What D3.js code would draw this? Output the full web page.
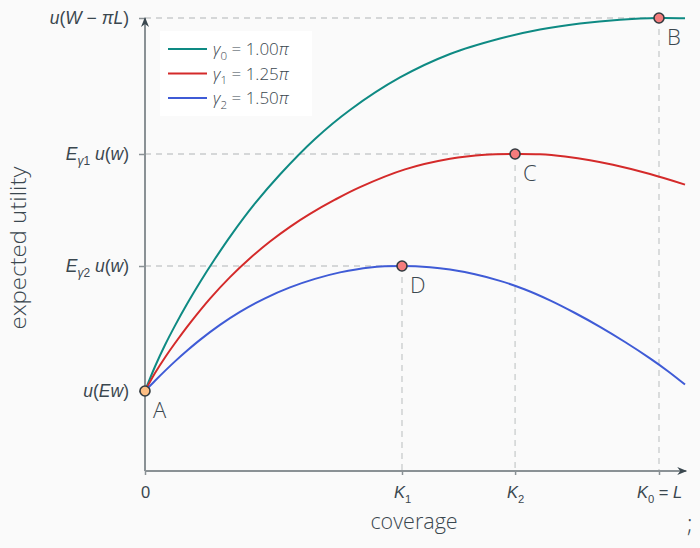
<!DOCTYPE html>
<html><head><meta charset="utf-8">
<script src="https://cdn.jsdelivr.net/npm/d3@7"></script>
<style>
body{margin:0;background:#fafafa;}
svg{display:block;font-family:"Open Sans",sans-serif;font-weight:300;}
</style>
</head><body>
<svg id="c" width="700" height="548"></svg>
<script>
// ---- data (coverage, expected utility) ----
const seriesNames = ["γ0 = 1.00π", "γ1 = 1.25π", "γ2 = 1.50π"];
const gamma0 = [[0,0],[0.0195,0.0657],[0.0389,0.1233],[0.0584,0.1753],[0.0817,0.2332],[0.107,0.2917],[0.1362,0.3544],[0.1673,0.4172],[0.214,0.5027],[0.2626,0.5804],[0.3307,0.6756],[0.3988,0.7534],[0.4961,0.8405],[0.5934,0.9035],[0.6907,0.945],[0.7685,0.9692],[0.8463,0.9853],[0.9241,0.9954],[1,1],[1.0506,0.9992]];
const gamma1 = [[0,0],[0.0195,0.048],[0.0389,0.0898],[0.0632,0.1373],[0.0875,0.182],[0.1265,0.2477],[0.1654,0.3054],[0.2043,0.356],[0.2432,0.4008],[0.2821,0.4402],[0.321,0.4748],[0.3696,0.5129],[0.4183,0.5466],[0.5058,0.5941],[0.5934,0.6225],[0.6615,0.6335],[0.72,0.6354],[0.7685,0.6344],[0.8171,0.6284],[0.8658,0.6188],[0.9105,0.6064],[0.9825,0.5818],[1.0506,0.5534]];
const gamma2 = [[0,0],[0.0195,0.0276],[0.0389,0.054],[0.0584,0.0794],[0.0827,0.1091],[0.107,0.137],[0.1459,0.1772],[0.1848,0.2121],[0.2335,0.2485],[0.2821,0.2777],[0.3307,0.3005],[0.3794,0.318],[0.4377,0.3314],[0.5,0.3351],[0.5545,0.3319],[0.5934,0.3255],[0.642,0.3129],[0.6907,0.2953],[0.7393,0.2721],[0.7879,0.243],[0.8366,0.2091],[0.8852,0.172],[0.9339,0.1314],[0.9825,0.0875],[1.0175,0.053],[1.0506,0.0172]];
const pointNames = ["A","B","C","D"];
const pointValues = [[0,0],[1,1],[0.72,0.6354],[0.5,0.3351]];
const xTickValues = [0, 0.5, 0.72, 1];
const yTickValues = [0, 0.3351, 0.6354, 1];
const colors = ["#0e8a83","#d42a2a","#3f5bd6"];

// ---- math label segments ----
const xTickLabels = [
  [{t:"0"}],
  [{t:"K",i:1},{t:"1",s:1}],
  [{t:"K",i:1},{t:"2",s:1}],
  [{t:"K",i:1},{t:"0",s:1},{t:" = "},{t:"L",i:1}]
];
const yTickLabels = [
  [{t:"u",i:1},{t:"("},{t:"Ew",i:1},{t:")"}],
  [{t:"E",i:1},{t:"γ",i:1,s:1},{t:"2",s:1},{t:" u",i:1},{t:"("},{t:"w",i:1},{t:")"}],
  [{t:"E",i:1},{t:"γ",i:1,s:1},{t:"1",s:1},{t:" u",i:1},{t:"("},{t:"w",i:1},{t:")"}],
  [{t:"u",i:1},{t:"("},{t:"W",i:1},{t:" − "},{t:"π",i:1},{t:"L",i:1},{t:")"}]
];
const legendLabels = [
  [{t:"γ",i:1},{t:"0",s:1},{t:" = 1.00"},{t:"π",i:1}],
  [{t:"γ",i:1},{t:"1",s:1},{t:" = 1.25"},{t:"π",i:1}],
  [{t:"γ",i:1},{t:"2",s:1},{t:" = 1.50"},{t:"π",i:1}]
];

const textColor = "#3a474f", axisColor = "#8a9195", gridColor = "#c9cccd";
const svg = d3.select("#c");
svg.append("rect").attr("width",700).attr("height",548).attr("fill","#fafafa");

const x = d3.scaleLinear().domain([0,1]).range([145,659]);
const y = d3.scaleLinear().domain([0,1]).range([391,18]);
const xEnd = 1.053, yBottom = -0.2145;

function mathText(sel, segs, size){
  let inSub = false;
  segs.forEach(s=>{
    const t = sel.append("tspan").text(s.t);
    if (s.i) t.attr("font-style","italic");
    if (s.s){
      t.attr("font-size", size*0.68);
      if(!inSub){ t.attr("dy", size*0.28); inSub = true; }
    } else if (inSub){
      t.attr("dy", -size*0.28); inSub = false;
    }
  });
}

// arrow marker
const defs = svg.append("defs");
defs.append("marker").attr("id","arr").attr("viewBox","0 0 10 10").attr("refX",9).attr("refY",5)
  .attr("markerWidth",5).attr("markerHeight",5).attr("orient","auto-start-reverse").attr("markerUnits","strokeWidth")
  .append("path").attr("d","M0,1 L10,5 L0,9 L3,5 Z").attr("fill","#3a474f");

// dashed guides
const guides = svg.append("g").attr("stroke",gridColor).attr("stroke-width",1.3).attr("stroke-dasharray","6,5");
pointValues.slice(1).forEach(p=>{
  guides.append("line").attr("x1",x(0)).attr("x2",x(p[0])).attr("y1",y(p[1])).attr("y2",y(p[1]));
  guides.append("line").attr("x1",x(p[0])).attr("x2",x(p[0])).attr("y1",y(p[1])).attr("y2",y(yBottom));
});

// axes
const xAxis = d3.axisBottom(x).tickValues(xTickValues).tickSize(4).tickFormat("");
const gx = svg.append("g").attr("transform",`translate(0,${y(yBottom)})`).call(xAxis);
gx.select(".domain").remove();
gx.selectAll(".tick line").attr("stroke",axisColor).attr("stroke-width",1.5);
gx.selectAll(".tick").append("text").attr("y",27).attr("text-anchor","middle")
  .attr("fill",textColor).attr("font-size",16.5).each(function(d,i){ mathText(d3.select(this), xTickLabels[i], 16.5); });

const yAxis = d3.axisLeft(y).tickValues(yTickValues).tickSize(6).tickFormat("");
const gy = svg.append("g").attr("transform",`translate(${x(0)},0)`).call(yAxis);
gy.select(".domain").remove();
gy.selectAll(".tick line").attr("stroke",axisColor).attr("stroke-width",1.5);
gy.selectAll(".tick").append("text").attr("x",-16).attr("dy","0.33em").attr("text-anchor","end")
  .attr("fill",textColor).attr("font-size",17.5).each(function(d,i){ mathText(d3.select(this), yTickLabels[i], 17.5); });

svg.append("line").attr("x1",x(0)).attr("x2",x(xEnd)).attr("y1",y(yBottom)).attr("y2",y(yBottom))
  .attr("stroke",axisColor).attr("stroke-width",2).attr("marker-end","url(#arr)");
svg.append("line").attr("x1",x(0)).attr("x2",x(0)).attr("y1",y(yBottom)).attr("y2",y(1))
  .attr("stroke",axisColor).attr("stroke-width",2).attr("marker-end","url(#arr)");

// curves
const line = d3.line().x(d=>x(d[0])).y(d=>y(d[1])).curve(d3.curveCatmullRom.alpha(0.5));
[gamma0,gamma1,gamma2].forEach((s,i)=>{
  svg.append("path").attr("d",line(s)).attr("fill","none").attr("stroke",colors[i]).attr("stroke-width",2);
});

// points
pointValues.forEach((p,i)=>{
  svg.append("circle").attr("cx",x(p[0])).attr("cy",y(p[1])).attr("r",5)
    .attr("fill", i===0 ? "#fdbe84" : "#f47c7c").attr("stroke","#333b40").attr("stroke-width",1.6);
  svg.append("text").attr("x",x(p[0])+8).attr("y",y(p[1])+27).attr("fill",textColor)
    .attr("font-size",22).text(pointNames[i]);
});

// legend
const lg = svg.append("g");
lg.append("rect").attr("x",160).attr("y",31).attr("width",152).attr("height",85).attr("fill","#ffffff");
legendLabels.forEach((lab,i)=>{
  const yy = 49 + i*24.5;
  lg.append("line").attr("x1",168).attr("x2",207).attr("y1",yy).attr("y2",yy).attr("stroke",colors[i]).attr("stroke-width",2);
  const t = lg.append("text").attr("x",213).attr("y",yy+6).attr("fill",textColor).attr("font-size",17);
  mathText(t, lab, 17);
});

// axis titles
svg.append("text").attr("x",414).attr("y",529).attr("text-anchor","middle").attr("fill",textColor)
  .attr("font-size",21.5).text("coverage");
svg.append("text").attr("transform","translate(26,248) rotate(-90)").attr("text-anchor","middle").attr("fill",textColor)
  .attr("font-size",22.5).attr("textLength",163).attr("lengthAdjust","spacingAndGlyphs").text("expected utility");
svg.append("text").attr("x",687).attr("y",532).attr("fill",textColor).attr("font-size",23).text(";");
</script>
</body></html>
